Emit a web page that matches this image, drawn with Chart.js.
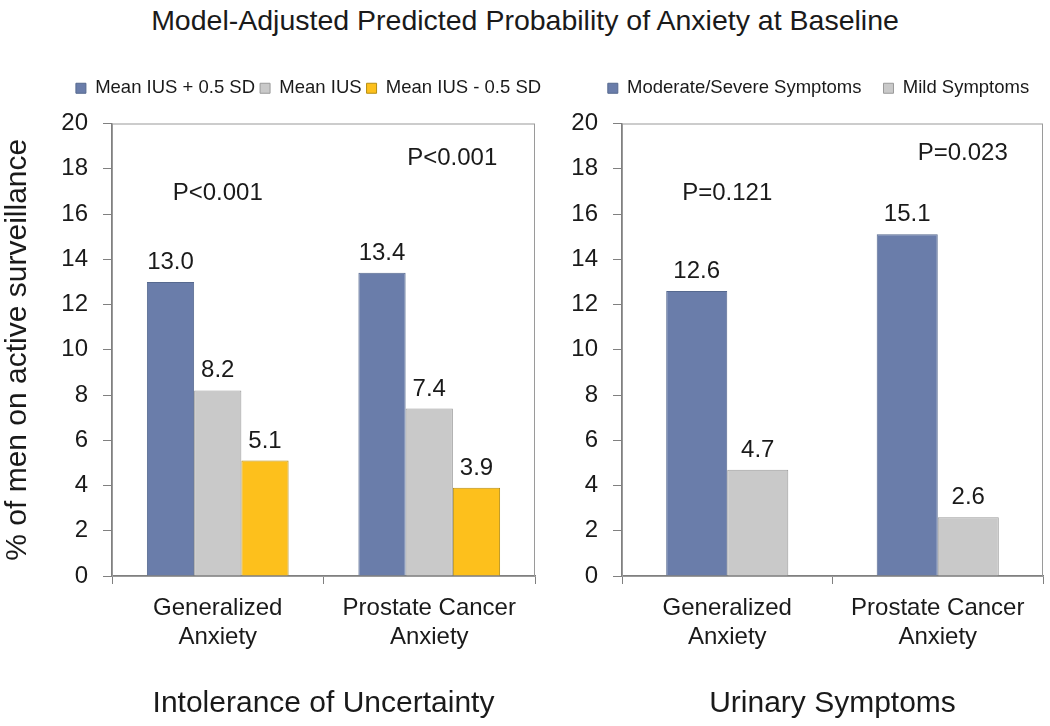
<!DOCTYPE html>
<html>
<head>
<meta charset="utf-8">
<script src="https://cdn.jsdelivr.net/npm/chart.js@4.4.1/dist/chart.umd.min.js"></script>
<style>
  body { margin: 0; background: #fff; overflow: hidden; }
  #wrap { position: relative; width: 1050px; height: 726px; overflow: hidden; }
  #title {
    position: absolute; left: 0; top: 2px; width: 1050px; text-align: center;
    font: 28.5px "Liberation Sans", Arial, sans-serif; color: #1a1a1a; line-height: 36px;
  }
  .panel { position: absolute; }
  #left { left: 0; top: 74px; width: 617px; height: 652px; }
  #right { left: 560px; top: 57px; width: 517px; height: 669px; }
</style>
</head>
<body>
<div id="wrap">
  <div id="title">Model-Adjusted Predicted Probability of Anxiety at Baseline</div>
  <div class="panel" id="left"><canvas id="chartLeft"></canvas></div>
  <div class="panel" id="right"><canvas id="chartRight"></canvas></div>
</div>
<script>
// data
const categories = [["Generalized", "Anxiety"], ["Prostate Cancer", "Anxiety"]];
const yTicks = [0, 2, 4, 6, 8, 10, 12, 14, 16, 18, 20];

const iusPlus = [13.0, 13.4];
const iusMean = [8.2, 7.4];
const iusMinus = [5.1, 3.9];
const iusP = ["P<0.001", "P<0.001"];

const urinaryModSevere = [12.6, 15.1];
const urinaryMild = [4.7, 2.6];
const urinaryP = ["P=0.121", "P=0.023"];

const FONT = "'Liberation Sans', Arial, sans-serif";
const TEXT = "#1a1a1a";
const AXIS = "#808080";

const BLUE = { bg: "#6A7DAA", border: "#56698f" };
const GREY = { bg: "#C9C9C9", border: "#9a9a9a" };
const GOLD = { bg: "#FDC01C", border: "#b58d12" };

Chart.defaults.font.family = FONT;
Chart.defaults.color = TEXT;
Chart.defaults.animation = false;

// extra room under the legend
const legendSpace = {
  id: "legendSpace",
  beforeInit(chart, args, opts) {
    const lg = chart.legend;
    if (!lg) return;
    const fit = lg.fit;
    lg.fit = function () {
      fit.call(this);
      this.height += opts.extra || 0;
    };
  }
};

// value labels above each bar + p-value notes
const barLabels = {
  id: "barLabels",
  afterDatasetsDraw(chart, args, opts) {
    const ctx = chart.ctx;
    ctx.save();
    ctx.font = "24px " + FONT;
    ctx.fillStyle = TEXT;
    ctx.textAlign = "center";
    ctx.textBaseline = "alphabetic";
    chart.data.datasets.forEach((ds, i) => {
      chart.getDatasetMeta(i).data.forEach((bar, j) => {
        ctx.fillText(ds.data[j].toFixed(1), bar.x, bar.y - 13);
      });
    });
    const xs = chart.scales.x, ys = chart.scales.y;
    ctx.textBaseline = "middle";
    opts.texts.forEach((t, j) => {
      ctx.fillText(t, xs.getPixelForValue(j) + opts.dx[j], ys.getPixelForValue(opts.y[j]));
    });
    ctx.restore();
  }
};

// thin frame round the plot area
const frame = {
  id: "frame",
  beforeDatasetsDraw(chart) {
    const a = chart.chartArea, ctx = chart.ctx;
    ctx.save();
    ctx.strokeStyle = "#9a9a9a";
    ctx.lineWidth = 1;
    ctx.strokeRect(a.left + 0.5, a.top + 0.5, a.right - a.left - 1, a.bottom - a.top);
    ctx.restore();
  }
};

function makeOptions(o) {
  return {
    responsive: true,
    maintainAspectRatio: false,
    layout: { padding: 0 },
    plugins: {
      tooltip: { enabled: false },
      legend: {
        position: "top",
        labels: {
          boxWidth: 10, boxHeight: 10, padding: o.legendGap,
          font: { size: 18.5 }, color: TEXT
        }
      },
      legendSpace: { extra: o.legendExtra },
      barLabels: o.notes
    },
    scales: {
      x: {
        afterFit(s) { s.height = 150; },
        grid: { offset: true, drawOnChartArea: false, drawTicks: true, tickLength: 8, color: AXIS },
        border: { color: AXIS, width: 1.5 },
        ticks: { font: { size: 24 }, color: TEXT, padding: 10, maxRotation: 0 },
        title: {
          display: true, text: o.xTitle, font: { size: 30 }, color: TEXT,
          padding: { top: 0, bottom: 4 }
        }
      },
      y: {
        min: 0, max: 20,
        afterFit(s) { s.width = o.yWidth; },
        afterBuildTicks(s) { s.ticks = yTicks.map(v => ({ value: v })); },
        grid: { drawOnChartArea: false, drawTicks: true, tickLength: 9, color: AXIS },
        border: { color: AXIS, width: 1.5 },
        ticks: { font: { size: 24 }, color: TEXT, padding: 15 },
        title: {
          display: !!o.yTitle, text: o.yTitle || "", font: { size: 30 }, color: TEXT,
          padding: 0
        }
      },
      // empty right-hand margin so the legend can sit centred over the whole canvas
      margin: {
        type: "linear", position: "right", display: true,
        afterFit(s) { s.width = o.rightGap; },
        ticks: { display: false },
        grid: { display: false },
        border: { display: false }
      }
    }
  };
}

function bars(label, data, c, pct) {
  return {
    label: label, data: data,
    backgroundColor: c.bg, borderColor: c.border, borderWidth: 1,
    borderSkipped: "bottom",
    categoryPercentage: pct, barPercentage: 1
  };
}

new Chart(document.getElementById("chartLeft"), {
  type: "bar",
  data: {
    labels: categories,
    datasets: [
      bars("Mean IUS + 0.5 SD", iusPlus, BLUE, 0.67),
      bars("Mean IUS", iusMean, GREY, 0.67),
      bars("Mean IUS - 0.5 SD", iusMinus, GOLD, 0.67)
    ]
  },
  options: makeOptions({
    rightGap: 82, legendGap: 5, legendExtra: 16, yWidth: 112,
    xTitle: "Intolerance of Uncertainty",
    yTitle: "% of men on active surveillance",
    notes: { texts: iusP, y: [16.9, 18.45], dx: [0, 23] }
  }),
  plugins: [legendSpace, frame, barLabels]
});

new Chart(document.getElementById("chartRight"), {
  type: "bar",
  data: {
    labels: categories,
    datasets: [
      bars("Moderate/Severe Symptoms", urinaryModSevere, BLUE, 0.58),
      bars("Mild Symptoms", urinaryMild, GREY, 0.58)
    ]
  },
  options: makeOptions({
    rightGap: 34, legendGap: 22, legendExtra: 16, yWidth: 62,
    xTitle: "Urinary Symptoms",
    notes: { texts: urinaryP, y: [16.9, 18.7], dx: [0, 25] }
  }),
  plugins: [legendSpace, frame, barLabels]
});
</script>
</body>
</html>
